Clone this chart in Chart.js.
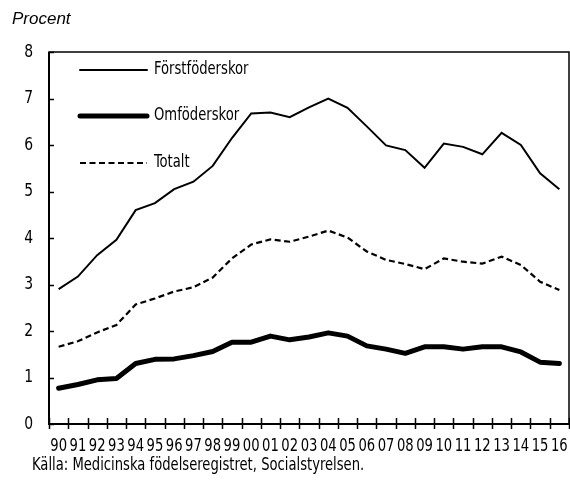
<!DOCTYPE html>
<html>
<head>
<meta charset="utf-8">
<script src="https://cdn.jsdelivr.net/npm/chart.js@4.4.0/dist/chart.umd.min.js"></script>
<style>
html,body{margin:0;padding:0;background:#fff;}
#wrap{width:570px;height:481px;position:relative;}
</style>
</head>
<body>
<div id="wrap"><canvas id="c" width="570" height="481"></canvas></div>
<script>
const years = ['90','91','92','93','94','95','96','97','98','99','00','01','02','03','04','05','06','07','08','09','10','11','12','13','14','15','16'];
const forst = [2.90,3.17,3.63,3.96,4.60,4.75,5.05,5.21,5.55,6.15,6.68,6.70,6.60,6.81,7.00,6.80,6.40,5.99,5.89,5.51,6.03,5.96,5.80,6.26,6.00,5.39,5.05];
const omf = [0.77,0.85,0.95,0.98,1.30,1.39,1.40,1.47,1.56,1.76,1.76,1.89,1.81,1.87,1.96,1.89,1.68,1.61,1.52,1.66,1.66,1.61,1.66,1.66,1.55,1.33,1.30];
const totalt = [1.66,1.78,1.97,2.13,2.57,2.70,2.85,2.94,3.15,3.56,3.86,3.97,3.92,4.03,4.16,4.01,3.71,3.53,3.44,3.33,3.56,3.49,3.45,3.60,3.42,3.06,2.88];
const yTicks = [0,1,2,3,4,5,6,7,8];
const yLabel = 'Procent';
const source = 'Källa: Medicinska födelseregistret, Socialstyrelsen.';

const NARROW = '"DejaVu Sans Condensed", "Liberation Sans Narrow", sans-serif';
const SX = 0.86; // horizontal compression to mimic a condensed face

function narrowText(ctx, text, x, y, size, align) {
  ctx.save();
  ctx.font = size + 'px ' + NARROW;
  ctx.textBaseline = 'middle';
  ctx.textAlign = align || 'left';
  ctx.translate(x, y);
  ctx.scale(SX, 1);
  ctx.fillText(text, 0, 0);
  ctx.restore();
}

const decor = {
  id: 'decor',
  beforeDatasetsDraw(chart) {
    const {ctx, chartArea: a, scales: {x, y}} = chart;
    ctx.save();
    ctx.strokeStyle = '#000';
    ctx.lineWidth = 1.5;
    ctx.strokeRect(a.left, a.top, a.right - a.left, a.bottom - a.top);
    ctx.lineWidth = 2;
    ctx.beginPath();
    ctx.moveTo(a.left, a.top); ctx.lineTo(a.left, a.bottom); ctx.lineTo(a.right, a.bottom);
    ctx.stroke();
    ctx.lineWidth = 1.5;
    const n = years.length;
    const step = (a.right - a.left) / n;
    ctx.beginPath();
    for (let i = 0; i <= n; i++) {
      const px = Math.round(a.left + i * step) + 0.5;
      ctx.moveTo(px, a.bottom - 6); ctx.lineTo(px, a.bottom + 5);
    }
    ctx.stroke();
    ctx.beginPath();
    yTicks.forEach(v => {
      const py = Math.round(y.getPixelForValue(v)) + 0.5;
      ctx.moveTo(a.left, py); ctx.lineTo(a.left + 5, py);
    });
    ctx.stroke();
    ctx.restore();
  },
  afterDraw(chart) {
    const {ctx, chartArea: a, scales: {x, y}} = chart;
    ctx.save();
    ctx.fillStyle = '#000';
    ctx.textBaseline = 'middle';
    ctx.font = 'italic 17px "Liberation Sans", Arial, sans-serif';
    ctx.fillText(yLabel, 12, 19);
    narrowText(ctx, source, 32, 466, 17);
    years.forEach((lab, i) => narrowText(ctx, lab, x.getPixelForValue(i), 447, 17, 'center'));
    yTicks.forEach(v => narrowText(ctx, String(v), 33, y.getPixelForValue(v), 18, 'right'));
    const rows = [70, 116, 163];
    chart.data.datasets.forEach((ds, i) => {
      const ry = rows[i];
      ctx.strokeStyle = ds.borderColor;
      ctx.lineWidth = ds.borderWidth;
      ctx.setLineDash(ds.borderDash || []);
      ctx.lineCap = ds.borderDash ? 'butt' : 'round';
      ctx.beginPath();
      ctx.moveTo(80, ry); ctx.lineTo(147, ry);
      ctx.stroke();
      ctx.setLineDash([]);
      narrowText(ctx, ds.label, 154, ry, 17);
    });
    ctx.restore();
  }
};

new Chart(document.getElementById('c'), {
  type: 'line',
  data: {
    labels: years,
    datasets: [
      {label: 'Förstföderskor', data: forst, borderColor: '#000', borderWidth: 2, pointRadius: 0, tension: 0, fill: false},
      {label: 'Omföderskor', data: omf, borderColor: '#000', borderWidth: 5, pointRadius: 0, tension: 0, fill: false, borderCapStyle: 'round', borderJoinStyle: 'round'},
      {label: 'Totalt', data: totalt, borderColor: '#000', borderWidth: 2.2, borderDash: [6, 3.5], pointRadius: 0, tension: 0, fill: false}
    ]
  },
  options: {
    responsive: false,
    animation: false,
    layout: {padding: {left: 0, right: 1, top: 52, bottom: 0}},
    plugins: {legend: {display: false}, tooltip: {enabled: false}, title: {display: false}},
    scales: {
      x: {
        type: 'category',
        offset: true,
        grid: {display: false, drawTicks: false},
        border: {display: false},
        ticks: {display: false, autoSkip: false},
        afterFit(s) { s.height = 57; }
      },
      y: {
        min: 0, max: 8,
        grid: {display: false, drawTicks: false},
        border: {display: false},
        ticks: {display: false, stepSize: 1},
        afterFit(s) { s.width = 49; }
      }
    }
  },
  plugins: [decor]
});
</script>
</body>
</html>
